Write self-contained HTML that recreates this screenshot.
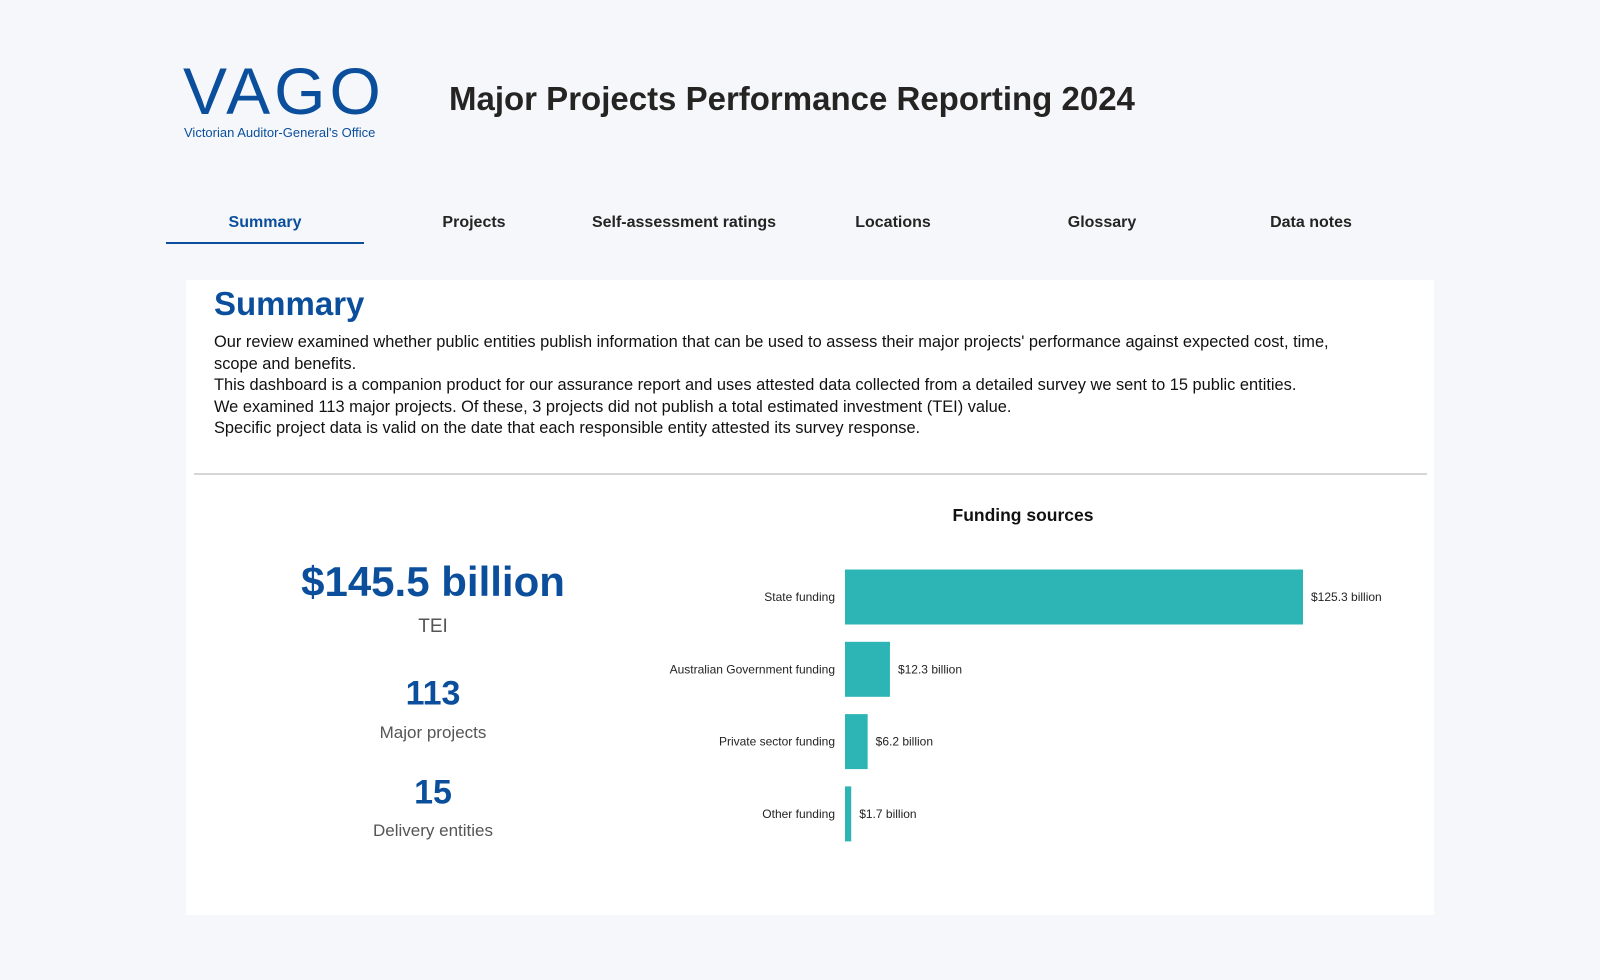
<!DOCTYPE html>
<html><head><meta charset="utf-8"><style>
body{margin:0;width:1600px;height:980px;background:#f5f7fb;font-family:"Liberation Sans",sans-serif;position:relative;overflow:hidden}
.a{position:absolute;white-space:nowrap}
.nav{position:absolute;top:214px;font-size:16px;font-weight:bold;color:#252423;transform:translateX(-50%)}
.kb{position:absolute;left:433px;transform:translate(-50%,-50%);color:#0b4f9c;font-weight:bold}
.kl{position:absolute;left:433px;transform:translate(-50%,-50%);color:#555;font-size:17px}
</style></head><body>
<div>
<div class="a" style="left:183px;top:53px;font-size:66px;color:#0b4f9c;letter-spacing:4px;line-height:76px">VAGO</div>
<div class="a" style="left:184px;top:125px;font-size:13px;color:#0b4f9c">Victorian Auditor-General's Office</div>
</div>
<div class="a" style="left:449px;top:80px;font-size:33px;font-weight:bold;color:#252423">Major Projects Performance Reporting 2024</div>
<div class="nav" style="left:265px;color:#0b4f9c">Summary</div>
<div class="a" style="left:166px;top:242px;width:198px;height:2px;background:#0b4f9c"></div>
<div class="nav" style="left:474px">Projects</div>
<div class="nav" style="left:684px">Self-assessment ratings</div>
<div class="nav" style="left:893px">Locations</div>
<div class="nav" style="left:1102px">Glossary</div>
<div class="nav" style="left:1311px">Data notes</div>
<div class="a" style="left:186px;top:280px;width:1248px;height:635px;background:#fff"></div>
<div class="a" style="left:214px;top:285px;font-size:33px;font-weight:bold;color:#0b4f9c">Summary</div>
<div class="a" style="left:214px;top:332px;font-size:16.4px;line-height:21.6px;color:#111;white-space:normal;width:1130px">Our review examined whether public entities publish information that can be used to assess their major projects' performance against expected cost, time, scope and benefits.<br>This dashboard is a companion product for our assurance report and uses attested data collected from a detailed survey we sent to 15 public entities.<br>We examined 113 major projects. Of these, 3 projects did not publish a total estimated investment (TEI) value.<br>Specific project data is valid on the date that each responsible entity attested its survey response.</div>
<div class="a" style="left:194px;top:473px;width:1233px;height:2px;background:#d6d6d6"></div>
<div class="kb" style="top:582px;font-size:42px">$145.5 billion</div>
<div class="kl" style="top:627px;font-size:19px">TEI</div>
<div class="kb" style="top:694px;font-size:34px">113</div>
<div class="kl" style="top:733px">Major projects</div>
<div class="kb" style="top:793px;font-size:34px">15</div>
<div class="kl" style="top:831px">Delivery entities</div>
<svg id="chart" class="a" style="left:0;top:0" width="1600" height="980"></svg>
<script>
const categories=["State funding","Australian Government funding","Private sector funding","Other funding"];
const values=[125.3,12.3,6.2,1.7];
const valueLabels=["$125.3 billion","$12.3 billion","$6.2 billion","$1.7 billion"];
const svg=document.getElementById('chart');const NS='http://www.w3.org/2000/svg';
const x0=845,pxPer=458/125.3,y0=597,step=72.3,bh=55;
const xs=v=>x0+v*pxPer, ys=i=>y0+i*step;
function mk(t,a){const e=document.createElementNS(NS,t);for(const k in a)e.setAttribute(k,a[k]);svg.appendChild(e);return e;}
const t=mk('text',{x:1023,y:521,'text-anchor':'middle','font-size':17.5,'font-weight':'bold',fill:'#111','font-family':'Liberation Sans'});t.textContent='Funding sources';


categories.forEach((c,i)=>{
const r=mk('rect',{x:x0,y:ys(i)-bh/2,width:xs(values[i])-x0,height:bh,fill:'#2db5b5'});


const l=mk('text',{x:835,y:ys(i)+4,'text-anchor':'end','font-size':12,fill:'#252423','font-family':'Liberation Sans'});l.textContent=c;


const v=mk('text',{x:xs(values[i])+8,y:ys(i)+4,'font-size':12,fill:'#252423','font-family':'Liberation Sans'});v.textContent=valueLabels[i];


});
</script>
</body></html>
